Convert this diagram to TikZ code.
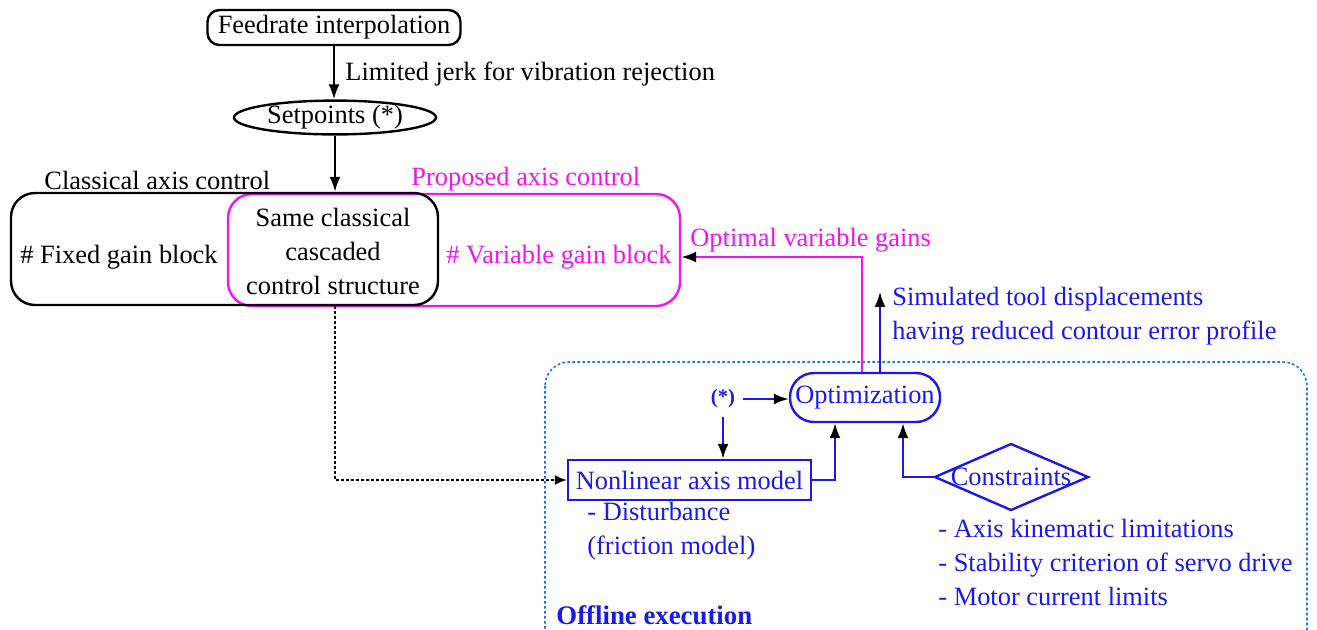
\documentclass[tikz,border=0pt]{standalone}
\usepackage{fontspec}
\setmainfont{Liberation Serif}
\newfontfamily\lserif{Liberation Serif}
\usetikzlibrary{arrows.meta,shapes.geometric}
\definecolor{bl}{RGB}{25,25,235}
\definecolor{dotbl}{RGB}{30,110,255}
\definecolor{mag}{RGB}{240,20,240}
\tikzset{
  txt/.style={font=\lserif\fontsize{13.2}{17}\selectfont, inner sep=0pt},
  lbl/.style={txt, anchor=west, align=left},
  arr/.style={-{Latex[length=7.5pt,width=5.5pt,black]}, line width=1.1pt},
  blk/.style={draw=black, line width=1.2pt},
  blu/.style={draw=bl, line width=1.2pt, text=bl},
}
\begin{document}
\begin{tikzpicture}[x=0.5pt,y=-0.5pt]
\useasboundingbox (0,0) rectangle (1317,629);
% top
\node[txt, blk, rounded corners=6pt, minimum width=126.5pt, minimum height=17.5pt] (feed) at (334,27.5) {Feedrate interpolation};
\node[txt, blk, ellipse, minimum width=101pt, minimum height=15.5pt] (setp) at (335,117.5) {Setpoints (*)};
\draw[arr] (feed.south) -- (feed.south |- setp.north);
\node[lbl] (ljerk) at (345,74) {Limited jerk for vibration rejection};
% control boxes
\node[draw=mag, line width=1.2pt, rounded corners=12pt, minimum width=226pt, minimum height=56pt] (prop) at (454,250) {};
\node[blk, rounded corners=12pt, minimum width=213.5pt, minimum height=56pt] (cls) at (224.5,249) {};
\draw[arr] (setp.south) -- (setp.south |- cls.north);
\node[lbl] (clsl) at (44,180) {Classical axis control};
\node[lbl, text=mag] (propl) at (411,179) {Proposed axis control};
\node[lbl] (fixed) at (20,257) {\# Fixed gain block};
\node[lbl, text=mag] (var) at (446,257) {\# Variable gain block};
\node[txt, align=center] (same) at (333,251) {Same classical\\cascaded\\control structure};
% offline box
\draw[draw=dotbl, line width=0.8pt, dash pattern=on 1.3pt off 1.2pt, rounded corners=12pt] (545,362) rectangle (1307,660);
\node[lbl, font=\lserif\fontsize{13.4}{17}\selectfont\bfseries, text=bl] (offl) at (556,615) {Offline execution};
% optimization part
\node[txt, blu, rounded corners=12pt, minimum width=75pt, minimum height=24.5pt] (opt) at (865,397.5) {Optimization};
\node[txt, text=bl, font=\lserif\fontsize{10.3}{12}\selectfont\bfseries] (star) at (723,399) {(*)};
\node[txt, blu, minimum width=121.5pt, minimum height=20pt] (nlm) at (689.5,480) {Nonlinear axis model};
\node[txt, text=bl] (cons) at (1011,477) {Constraints};
\coordinate (consL) at (935,477);
\draw[draw=bl, line width=1.2pt] (consL) -- (1011,444) -- (1088,477) -- (1011,510) -- cycle;
\draw[arr, draw=bl] ([xshift=4pt]star.east) -- (star.east -| opt.west);
\draw[arr, draw=bl] ([yshift=-4pt]star.south) -- (star.south |- nlm.north);
\draw[arr, draw=bl] (nlm.east) -| ([xshift=-15pt]opt.south);
\draw[arr, draw=bl] (consL) -| ([xshift=19pt]opt.south);
\draw[arr, draw=mag] ([xshift=-1.5pt]opt.north) |- ([yshift=-3.5pt]prop.east);
\draw[arr, draw=bl] ([xshift=7.5pt]opt.north) -- ++(0,-80);
\node[lbl, text=mag] (optg) at (690,240) {Optimal variable gains};
\node[lbl, text=bl, align=left] (sim) at (892,316.5) {Simulated tool displacements\\having reduced contour error profile};
\node[lbl, text=bl] (dist) at (587,531.5) {- Disturbance\\(friction model)};
\node[lbl, text=bl] (clist) at (938,562) {- Axis kinematic limitations\\- Stability criterion of servo drive\\- Motor current limits};
% dotted link
\draw[-{Latex[length=6pt,width=5pt,black]}, line width=0.8pt, dash pattern=on 1.3pt off 1.2pt] (setp.south |- cls.south) |- (nlm.west);
\end{tikzpicture}
\end{document}
